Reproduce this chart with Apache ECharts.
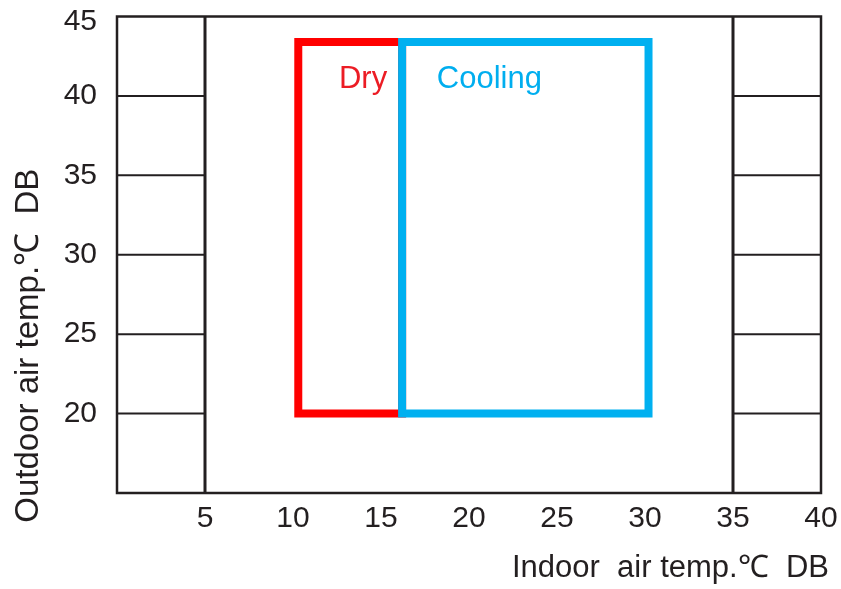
<!DOCTYPE html>
<html>
<head>
<meta charset="utf-8">
<script src="https://cdn.jsdelivr.net/npm/echarts@6/dist/echarts.min.js"></script>
<style>
  html, body { margin: 0; padding: 0; background: #fff; }
  #chart { width: 841px; height: 589px; }
</style>
</head>
<body>
<div id="chart"></div>
<script>
// axis ranges / ticks
const xRange = [0, 40]
const yRange = [15, 45]
const tickStep = 5

// short grid rows drawn only in the side bands
const rowValues = [20, 25, 30, 35, 40]
const sideBands = [[0, 5], [35, 40]]
const bandEdges = [5, 35]

// operating zones: [xMin, yMin, xMax, yMax]
const dryZone = [10.3, 20, 16.2, 43.4]
const coolingZone = [16.2, 20, 30.2, 43.4]

// zone captions: [x, y]
const dryLabelPos = [13.98, 41.05]
const coolingLabelPos = [21.16, 41.05]

const ink = '#231f20'
const font = '"Liberation Sans", Arial, sans-serif'

let myChart = echarts.init(document.getElementById('chart'))

// grid segments [x0, y0, x1, y1]
let rowSegs = []
rowValues.forEach(function (y) {
    sideBands.forEach(function (b) { rowSegs.push([b[0], y, b[1], y]) })
})
bandEdges.forEach(function (x) { rowSegs.push([x, yRange[0], x, yRange[1]]) })

function zoneSeries (name, zone, color) {
    return {
        name: name,
        type: 'custom',
        silent: true,
        encode: { x: [0, 2], y: [1, 3] },
        data: [zone],
        renderItem: function (params, api) {
            let p0 = api.coord([api.value(0), api.value(3)])
            let p1 = api.coord([api.value(2), api.value(1)])
            return {
                type: 'rect',
                shape: { x: p0[0], y: p0[1], width: p1[0] - p0[0], height: p1[1] - p0[1] },
                style: { fill: 'none', stroke: color, lineWidth: 8, lineJoin: 'miter' }
            }
        }
    }
}

var option = {
    backgroundColor: '#fff',
    animation: false,
    grid: { left: 117, right: 20, top: 16.5, bottom: 96, show: true, borderColor: ink, borderWidth: 2.5 },
    xAxis: {
        type: 'value',
        min: xRange[0], max: xRange[1], interval: tickStep,
        name: 'Indoor  air temp.℃  DB',
        nameLocation: 'middle',
        nameGap: 60,
        nameTextStyle: { color: ink, fontSize: 31, fontFamily: font, padding: [0, 0, 0, 403] },
        axisLine: { show: false },
        axisTick: { show: false },
        splitLine: { show: false },
        axisLabel: {
            color: ink, fontSize: 30, fontFamily: font, margin: 11,
            formatter: function (v) { return v === 0 ? '' : v }
        }
    },
    yAxis: {
        type: 'value',
        min: yRange[0], max: yRange[1], interval: tickStep,
        name: 'Outdoor air temp.℃  DB',
        nameLocation: 'middle',
        nameGap: 72,
        nameTextStyle: { color: ink, fontSize: 33, fontFamily: font, padding: [0, 182, 0, 0] },
        axisLine: { show: false },
        axisTick: { show: false },
        splitLine: { show: false },
        axisLabel: {
            color: ink, fontSize: 30, fontFamily: font, margin: 20,
            formatter: function (v) {
                if (v === yRange[0]) return ''
                if (v === yRange[1]) return '{top|' + v + '}'
                return v
            },
            rich: { top: { color: ink, fontSize: 30, fontFamily: font, padding: [11, 0, 0, 0] } }
        }
    },
    series: [
        {
            name: 'grid rows',
            type: 'custom',
            silent: true,
            encode: { x: [0, 2], y: [1, 3] },
            data: rowSegs,
            renderItem: function (params, api) {
                let a = api.coord([api.value(0), api.value(1)])
                let b = api.coord([api.value(2), api.value(3)])
                let vertical = api.value(0) === api.value(2)
                return {
                    type: 'line',
                    shape: { x1: a[0], y1: a[1], x2: b[0], y2: b[1] },
                    style: { stroke: ink, lineWidth: vertical ? 3 : 2 }
                }
            }
        },
        zoneSeries('Dry', dryZone, '#ff0000'),
        zoneSeries('Cooling', coolingZone, '#00b0f0'),
        {
            name: 'captions',
            type: 'scatter',
            symbolSize: 0,
            silent: true,
            itemStyle: { opacity: 1 },
            data: [
                { name: 'Dry', value: dryLabelPos, label: { color: '#ec1c24' } },
                { name: 'Cooling', value: coolingLabelPos, label: { color: '#00aeef' } }
            ],
            label: {
                show: true,
                position: 'inside',
                fontSize: 31,
                fontFamily: font,
                textBorderWidth: 0,
                formatter: function (p) { return p.name }
            }
        }
    ]
}

myChart.setOption(option)
</script>
</body>
</html>
